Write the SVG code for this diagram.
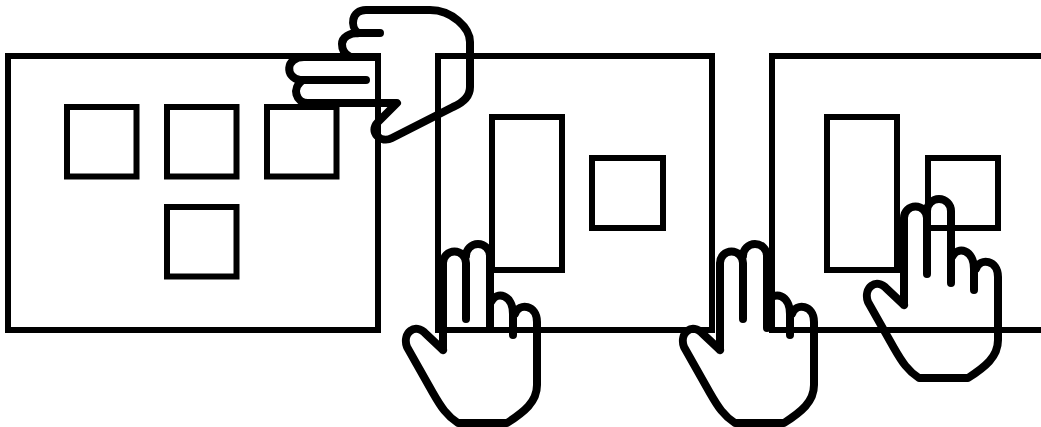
<svg xmlns="http://www.w3.org/2000/svg" width="1041" height="427" viewBox="0 0 1041 427">
<style>
rect{fill:none;stroke:#000;stroke-width:6}
path{fill:none;stroke:#000;stroke-width:8;stroke-linecap:round;stroke-linejoin:round}
</style>
<defs>
<path id="hand-up" d="M443 350V263A11.500 11.500 0 0 1 466 263V319M466 256A12 12 0 0 1 490 256V328M491 302C497 290 513 295 513 314V335M515 314C519 302 537 305 537 322V385C537 402 524 412 507 423H458C447 416 441 407 433 393L407 347C402 333 415 322 426 334L443 350"/>
</defs>
<rect width="1041" height="427" style="fill:#fff;stroke:none"/>
<g id="panel-1">
<rect x="8" y="56" width="370" height="274"/>
<rect x="67" y="107" width="69.500" height="69.500"/>
<rect x="167" y="107" width="69.500" height="69.500"/>
<rect x="267" y="107" width="69.500" height="69.500"/>
<rect x="167" y="207" width="69.500" height="69.500"/>
</g>
<g id="panel-2">
<rect x="438" y="56" width="274" height="274"/>
<rect x="492" y="117" width="70" height="153"/>
<rect x="592" y="158" width="71" height="70"/>
</g>
<g id="panel-3">
<rect x="772" y="56" width="290" height="274"/>
<rect x="827" y="117" width="70" height="153"/>
<rect x="928" y="158" width="70" height="70"/>
</g>
<g id="hand-top">
<path d="M380 33H358C350 33 342 37 342 44C342 50 345 54 349 56M358 33C350 27 351 10 366 10H430C452 10 470 28 470 42V87C470 98 460 104 453 107L392 138C381 144 368 132 378 122L397 103H308C296 103 291 88 303 80H366M303 80H300C285 78 285 57 304 57H375"/>
</g>
<g id="hand-1"><use href="#hand-up"/></g>
<g id="hand-2"><use href="#hand-up" x="277"/></g>
<g id="hand-3"><use href="#hand-up" x="461" y="-45"/></g>
</svg>
